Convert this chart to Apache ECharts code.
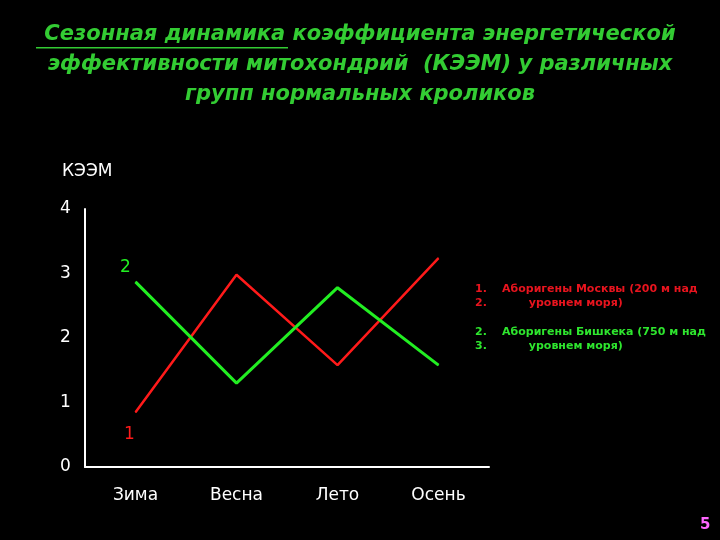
<!DOCTYPE html>
<html><head><meta charset="utf-8">
<script src="https://cdn.jsdelivr.net/npm/echarts@6/dist/echarts.min.js"></script>
<style>body{margin:0;background:#000}#c{width:720px;height:540px}</style>
</head><body><div id="c"></div>
<script>
var seasons = ['Зима', 'Весна', 'Лето', 'Осень'];
var moscow = [0.85, 2.98, 1.58, 3.24];
var bishkek = [2.87, 1.30, 2.78, 1.58];
var yTicks = [0, 1, 2, 3, 4];

var chart = echarts.init(document.getElementById('c'));
var titleStyle = {fontFamily: 'DejaVu Sans', fontSize: 21, fontWeight: 'bold', fontStyle: 'italic', fill: '#33cc33'};
var legRed = {fontFamily: 'DejaVu Sans', fontSize: 11, fill: '#e8141e', fontWeight: 'bold'};
var legGreen = {fontFamily: 'DejaVu Sans', fontSize: 11, fill: '#2ee62e', fontWeight: 'bold'};
chart.setOption({
  backgroundColor: '#000',
  animation: false,
  grid: {left: 85, top: 209, width: 404, height: 258},
  xAxis: {
    type: 'category', data: seasons, boundaryGap: true,
    axisLine: {lineStyle: {color: '#fff', width: 2}},
    axisTick: {show: false},
    axisLabel: {color: '#fff', fontSize: 17, fontFamily: 'DejaVu Sans', margin: 20}
  },
  yAxis: {
    type: 'value', min: yTicks[0], max: yTicks[yTicks.length - 1], interval: 1,
    axisLine: {show: true, lineStyle: {color: '#fff', width: 2}},
    axisTick: {show: false}, splitLine: {show: false},
    axisLabel: {color: '#fff', fontSize: 17, fontFamily: 'DejaVu Sans', margin: 25, align: 'left',
      formatter: function (v) { return yTicks.indexOf(v) >= 0 ? v : ''; }}
  },
  series: [{
    type: 'line', data: moscow, symbol: 'circle', symbolSize: 1, showSymbol: true,
    itemStyle: {color: '#ff1a1a'},
    lineStyle: {color: '#ff1a1a', width: 2.5},
    label: {show: true, position: 'bottom', color: '#ff1a1a', fontSize: 17, fontFamily: 'DejaVu Sans', offset: [-6, 8],
      formatter: function (p) { return p.dataIndex === 0 ? '1' : ''; }}
  }, {
    type: 'line', data: bishkek, symbol: 'circle', symbolSize: 1, showSymbol: true,
    itemStyle: {color: '#22ee22'},
    lineStyle: {color: '#22ee22', width: 3},
    label: {show: true, position: 'top', color: '#22ee22', fontSize: 17, fontFamily: 'DejaVu Sans', offset: [-10, 0],
      formatter: function (p) { return p.dataIndex === 0 ? '2' : ''; }}
  }],
  graphic: [
    {type: 'text', left: 'center', top: 24, style: Object.assign({text: 'Сезонная динамика коэффициента энергетической'}, titleStyle)},
    {type: 'text', left: 'center', top: 54, style: Object.assign({text: 'эффективности митохондрий  (КЭЭМ) у различных'}, titleStyle)},
    {type: 'text', left: 'center', top: 84, style: Object.assign({text: 'групп нормальных кроликов'}, titleStyle)},
    {type: 'rect', shape: {x: 36, y: 47, width: 252, height: 1.5}, style: {fill: '#33cc33'}},
    {type: 'text', left: 62, top: 163, style: {text: 'КЭЭМ', fill: '#fff', fontSize: 17, fontFamily: 'DejaVu Sans'}},
    {type: 'text', left: 475, top: 282, style: Object.assign({text: '1.\n2.', lineHeight: 14}, legRed)},
    {type: 'text', left: 502, top: 282, style: Object.assign({text: 'Аборигены Москвы (200 м над\n       уровнем моря)', lineHeight: 14}, legRed)},
    {type: 'text', left: 475, top: 325, style: Object.assign({text: '2.\n3.', lineHeight: 14}, legGreen)},
    {type: 'text', left: 502, top: 325, style: Object.assign({text: 'Аборигены Бишкека (750 м над\n       уровнем моря)', lineHeight: 14}, legGreen)},
    {type: 'text', left: 700, top: 518, style: {text: '5', fill: '#ff66ff', fontSize: 15, fontWeight: 'bold', fontFamily: 'DejaVu Sans'}}
  ]
});
</script></body></html>
